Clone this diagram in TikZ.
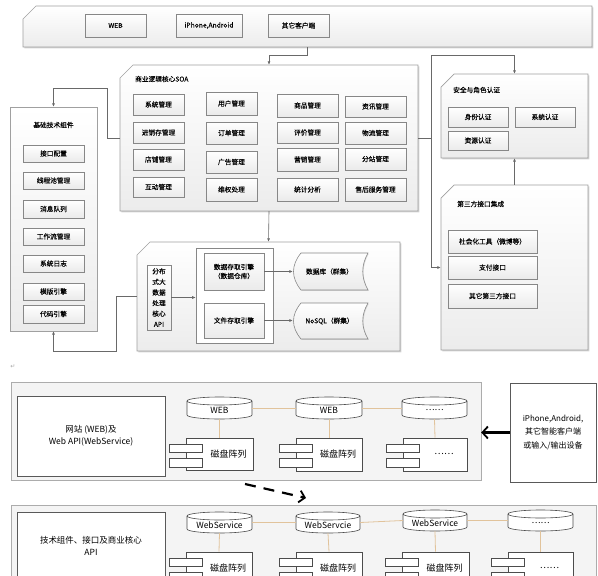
\documentclass[tikz,border=0pt]{standalone}
\usepackage{fontspec}
\setmainfont{Noto Sans CJK SC}
\newfontfamily\smf{Noto Sans CJK SC}[FakeBold=0.15]
\newfontfamily\symf{DejaVu Sans}
\usetikzlibrary{arrows.meta,shadows,calc,fit}
\definecolor{tanl}{RGB}{225,195,155}
\definecolor{bord}{RGB}{135,135,135}
\definecolor{cbord}{RGB}{160,160,160}
\definecolor{conc}{RGB}{105,105,105}
\tikzset{
  ibox/.style={draw=bord, line width=0.6pt, top color=white, bottom color=gray!16,
    inner sep=0pt, align=center, font=\smf\fontsize{6.7}{9}\selectfont,
    drop shadow={shadow xshift=0.8pt, shadow yshift=-0.8pt, opacity=0.25}},
  cont/.style={draw=cbord, line width=0.7pt, top color=white, bottom color=gray!15,
    drop shadow={shadow xshift=1.3pt, shadow yshift=-1.3pt, opacity=0.35}},
  plainc/.style={draw=cbord, line width=0.7pt, top color=white, bottom color=gray!15,
    drop shadow={shadow xshift=1.3pt, shadow yshift=-1.3pt, opacity=0.35}},
  ttl/.style={inner sep=0pt, font=\smf\fontsize{6.7}{8}\selectfont},
  conn/.style={draw=conc, line width=0.6pt, -{Latex[length=3.5pt,width=3pt]}},
  tanline/.style={draw=tanl, line width=0.8pt},
  sect/.style={draw=gray!65, line width=0.7pt, fill=gray!9},
  wbox/.style={draw=black!65, line width=0.6pt, fill=white, inner sep=0pt, align=center},
  cylst/.style={draw=black!70, line width=0.6pt, fill=white},
  compst/.style={draw=black!70, line width=0.6pt, fill=white, inner sep=0pt},
  bigarrow/.style={line width=2.2pt, -{Straight Barb[length=5.5pt,width=12pt,line width=1.8pt]}},
  dasharrow/.style={line width=2.2pt, dash pattern=on 11pt off 8pt, -{Straight Barb[length=5.5pt,width=12pt,line width=1.8pt]}}
}
% chamfered container: style, name, x1, y1, x2, y2
\newcommand\chbox[6][cont]{%
  \path[#1] (#3,#4+13) -- (#3+13,#4) -- (#5,#4) -- (#5,#6) -- (#3,#6) -- cycle;
  \node[inner sep=0pt, fit={(#3,#4) (#5,#6)}] (#2) {};}
% inner box: options, name, x1, y1, x2, y2, text
\newcommand\bx[7][]{%
  \node[ibox, minimum width={(#5-#3)*1pt}, minimum height={(#6-#4)*1pt}, #1]
    (#2) at ({(#3+#5)/2},{(#4+#6)/2}) {#7};}
% cylinder: name, x1, y1, x2, y2, text
\newcommand\cyl[6]{%
  \path[cylst] (#2,#3+4) -- (#2,#5-4) arc[start angle=180,end angle=360,x radius={(#4-#2)/2*1pt},y radius=4pt]
     -- (#4,#3+4) arc[start angle=0,end angle=180,x radius={(#4-#2)/2*1pt},y radius=4pt] -- cycle;
  \draw[cylst, fill=none] (#2,#3+4) arc[start angle=180,end angle=360,x radius={(#4-#2)/2*1pt},y radius=4pt];
  \node[inner sep=0pt, minimum width={(#4-#2)*1pt}, minimum height={(#5-#3)*1pt},
     font=\fontsize{8.5}{10}\selectfont] (#1) at ({(#2+#4)/2},{(#3+#5)/2}) {};
  \node[inner sep=0pt, font=\fontsize{8.5}{10}\selectfont] (#1t) at ({(#2+#4)/2},{(#3+#5)/2+2.5}) {#6};}
% component: name, x1, y1, x2, y2, text
\newcommand\comp[6]{%
  \node[compst, minimum width={(#4-#2)*1pt}, minimum height={(#5-#3)*1pt}]
     (#1) at ({(#2+#4)/2},{(#3+#5)/2}) {};
  \path[compst] (#2-17,#3+6) rectangle (#2+16,#3+14);
  \path[compst] (#2-17,#3+20) rectangle (#2+16,#3+29);
  \node[inner sep=0pt, font=\fontsize{9}{10}\selectfont] (#1t) at ({(#2+#4)/2+9},#3+16) {#6};}
% stored data: name, x1, y1, x2, y2, text
\newcommand\stor[6]{%
  \path[ibox] (#2+8,#3) -- (#4,#3) .. controls (#4-7,{#3+(#5-#3)/3}) and (#4-7,{#5-(#5-#3)/3}) .. (#4,#5)
     -- (#2+8,#5) .. controls (#2-2,{#5-(#5-#3)/3}) and (#2-2,{#3+(#5-#3)/3}) .. (#2+8,#3) -- cycle;
  \node[inner sep=0pt, minimum width={(#4-#2)*1pt}, minimum height={(#5-#3)*1pt}] (#1) at ({(#2+#4)/2},{(#3+#5)/2}) {};
  \node[inner sep=0pt, font=\smf\fontsize{6.7}{9}\selectfont] (#1t) at ({(#2+#4)/2-1},{(#3+#5)/2}) {#6};}

\begin{document}
\begin{tikzpicture}[x=1pt,y=-1pt]
\useasboundingbox (0,0) rectangle (598,576);
\clip (0,0) rectangle (598,576);

% ---------- top client bar ----------
\chbox{bar}{23}{6}{592}{47}
\bx{cweb}{85}{14}{146}{37}{WEB}
\bx{cios}{176}{14}{242}{37}{iPhone,Android}
\bx{coth}{268}{14}{329}{37}{其它客户端}

% ---------- SOA ----------
\chbox{soa}{120}{65}{418}{211}
\node[ttl, anchor=west] (soat) at (135,79) {商业逻辑核心SOA};
\bx{s11}{133}{94}{184}{115}{系统管理}
\bx{s21}{133}{122}{184}{143}{进销存管理}
\bx{s31}{133}{149}{184}{170}{店铺管理}
\bx{s41}{133}{177}{184}{197}{互动管理}
\bx{s12}{206}{92}{257}{115}{用户管理}
\bx{s22}{206}{122}{257}{144}{订单管理}
\bx{s32}{206}{151}{257}{173}{广告管理}
\bx{s42}{206}{178}{257}{201}{维权处理}
\bx{s13}{277}{94}{338}{117}{商品管理}
\bx{s23}{277}{122}{338}{143}{评价管理}
\bx{s33}{277}{148}{338}{171}{营销管理}
\bx{s43}{277}{178}{338}{201}{统计分析}
\bx{s14}{345}{96}{406}{117}{资讯管理}
\bx{s24}{345}{122}{406}{144}{物流管理}
\bx{s34}{345}{148}{406}{170}{分站管理}
\bx{s44}{345}{178}{406}{201}{售后服务管理}

% ---------- base components ----------
\path[plainc] (10,107) rectangle (97,331);
\node[inner sep=0pt, fit={(10,107) (97,331)}] (base) {};
\node[ttl] (baset) at (53.5,125) {基础技术组件};
\bx{b1}{23}{145}{84}{162}{接口配置}
\bx{b2}{23}{172}{84}{189}{线程池管理}
\bx{b3}{23}{200}{84}{218}{消息队列}
\bx{b4}{23}{228}{84}{245}{工作流管理}
\bx{b5}{23}{255}{84}{272}{系统日志}
\bx{b6}{23}{283}{84}{300}{模版引擎}
\bx{b7}{23}{305}{84}{323}{代码引擎}

% ---------- security ----------
\chbox{sec}{441}{74}{588}{158}
\node[ttl, anchor=west] (sect) at (453,90) {安全与角色认证};
\bx{r1}{448}{107}{508}{127}{身份认证}
\bx{r2}{515}{107}{575}{127}{系统认证}
\bx{r3}{448}{131}{508}{150}{资源认证}

% ---------- third party ----------
\chbox{third}{441}{185}{588}{350}
\node[ttl, anchor=west] (thirdt) at (457,204) {第三方接口集成};
\bx{p1}{448}{230}{537}{253}{社会化工具（微博等）}
\bx{p2}{448}{256}{537}{279}{支付接口}
\bx{p3}{448}{284}{537}{308}{其它第三方接口}

% ---------- data ----------
\chbox{data}{137}{242}{400}{351}
\bx[font=\smf\fontsize{6.7}{10.6}\selectfont]{api}{147}{265}{171}{330}{分布\\式大\\数据\\处理\\核心\\API}
\node[draw=bord, line width=0.6pt, fill=white, inner sep=0pt, minimum width=77pt, minimum height=95pt] (grp) at (234.5,295.5) {};
\bx{e1}{204}{253}{264}{290}{数据存取引擎\\（数据仓库）}
\bx{e2}{204}{303}{264}{338}{文件存取引擎}
\stor{st1}{293}{253}{368}{290}{数据库（群集）}
\stor{st2}{293}{303}{368}{339}{NoSQL（群集）}
\draw[conn] (api.east) -- (api.east -| grp.west);
\draw[conn] (e1.east) -- (e1.east -| st1.west);
\draw[conn] (e2.east) -- (e2.east -| st2.west);

% ---------- connectors ----------
\coordinate (t1) at (307,47);
\draw[conn] (t1) -- ++(0,8) -| (soa.north);
\draw[conn] (soa.west) -- ++(-13,0) |- ($(base.north)+(0,-19)$) -- (base.north);
\draw[conn] (soa.east) -- ++(13,0) |- ($(sec.north)+(0,-19)$) -- (sec.north);
\draw[conn] (soa.east) -- ++(13,0) |- (third.west);
\draw[conn] (third.north) -- (sec.south);
\draw[conn] (soa.south) -- (data.north);
\draw[conn] (data.west) -- ++(-21,0) |- ($(base.south)+(0,20)$) -- (base.south);

\node[inner sep=0pt, text=gray!70, font=\symf\fontsize{6}{7}\selectfont] (pm) at (13,367) {↵};

% ---------- deployment section 1 ----------
\path[sect] (11,382) rectangle (481,480);
\node[inner sep=0pt, fit={(11,382) (481,480)}] (sec1) {};
\node[wbox, minimum width=148pt, minimum height=80pt, font=\fontsize{8.5}{12}\selectfont] (webbox) at (91,436) {网站 (WEB)及\\Web API(WebService)};
\cyl{c1}{187}{397}{252}{419}{WEB}
\cyl{c2}{296}{397}{362}{419}{WEB}
\cyl{c3}{402}{397}{467}{419}{……}
\draw[tanline] (c1.east) -- (c2.west);
\draw[tanline] (c2.east) -- (c3.west);
\comp{k1}{186}{438}{253}{470}{磁盘阵列}
\comp{k2}{296}{438}{362}{471}{磁盘阵列}
\comp{k3}{403}{438}{467}{471}{……}
\draw[tanline] (c1.south) -- (k1.north);
\draw[tanline] (c2.south) -- (k2.north);
\draw[tanline] (c3.south) -- (k3.north);

\node[wbox, minimum width=86pt, minimum height=99pt, font=\fontsize{8}{13.5}\selectfont] (dev) at (553,432.5) {iPhone,Android,\\其它智能客户端\\或输入/输出设备};
\draw[bigarrow] (dev.west) -- (dev.west -| sec1.east);

\coordinate (d1) at (245,484);
\coordinate (d2) at (306,498);
\draw[dasharrow] (d1) -- (d2);

% ---------- deployment section 2 ----------
\path[sect] (11,505) rectangle (596,600);
\node[inner sep=0pt, fit={(11,505) (596,600)}] (sec2) {};
\path[wbox] (17,512) rectangle (165,600);
\node[inner sep=0pt, fit={(17,512) (165,600)}] (apibox) {};
\node[inner sep=0pt, align=center, font=\fontsize{8.5}{12.5}\selectfont] (apit) at (91,546) {技术组件、接口及商业核心\\API};
\cyl{w1}{187}{512}{252}{533}{WebService}
\cyl{w2}{296}{512}{360}{533}{WebServcie}
\cyl{w3}{403}{510}{467}{531}{WebService}
\cyl{w4}{508}{510}{573}{531}{……}
\draw[tanline] (w1.east) -- (w2.west);
\draw[tanline] (w2.east) -- (w3.west);
\draw[tanline] (w3.east) -- (w4.west);
\comp{m1}{186}{552}{252}{590}{磁盘阵列}
\comp{m2}{296}{552}{362}{590}{磁盘阵列}
\comp{m3}{402}{552}{469}{590}{磁盘阵列}
\comp{m4}{508}{552}{573}{590}{……}
\draw[tanline] (w1.south) -- (m1.north);
\draw[tanline] (w2.south) -- (m2.north);
\draw[tanline] (w3.south) -- (m3.north);
\draw[tanline] (w4.south) -- (m4.north);
\end{tikzpicture}
\end{document}
